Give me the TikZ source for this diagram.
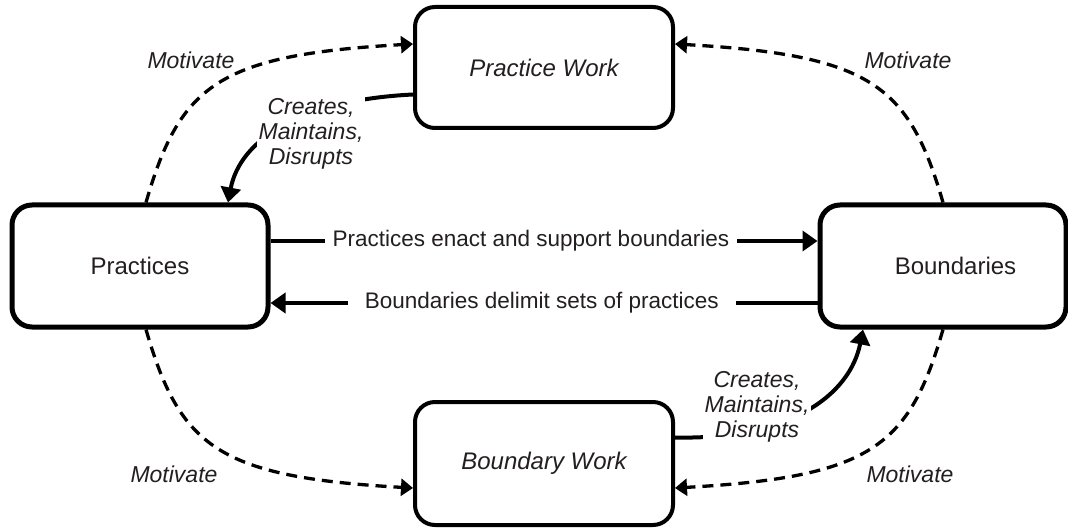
\documentclass[tikz,border=0pt]{standalone}
\usepackage{fontspec}
\setmainfont{Liberation Sans}
\usetikzlibrary{arrows.meta}
\definecolor{txt}{HTML}{231F20}
\begin{document}
\begin{tikzpicture}[x=1pt,y=-1pt,
  box/.style={draw=black, rounded corners=20pt, fill=white, text=txt, inner sep=0pt},
  bigbox/.style={box, line width=5pt, minimum width=256pt, minimum height=122pt, font=\fontsize{24}{28}\selectfont},
  workbox/.style={box, line width=4pt, minimum width=258pt, minimum height=121pt, font=\fontsize{24}{28}\selectfont\itshape},
  lbl/.style={text=txt, font=\fontsize{23}{25}\selectfont\itshape, align=center},
  flowlbl/.style={text=txt, font=\fontsize{22.5}{25}\selectfont, fill=white, inner ysep=2pt},
  flow/.style={line width=4pt, -{Triangle[length=15pt,width=20pt]}},
  motiv/.style={line width=3.3pt, dash pattern=on 11pt off 7pt, -{Triangle[length=12pt,width=17pt]}}
]
\useasboundingbox (0,0) rectangle (1068,529);

\node[bigbox] (P) at (140,266) {Practices};
\node[bigbox, minimum width=246pt] (B) at (943,266) {\hspace*{25pt}Boundaries};
\node[workbox] (PW) at (544,67.5) {Practice Work};
\node[workbox, minimum height=123pt] (BW) at (544,463.5) {Boundary Work};

% Motivate (dashed)
\draw[motiv] ([xshift=6pt]P.north) .. controls (180,85) and (218,55) .. ([yshift=23.5pt]PW.west);
\draw[motiv] (B.north) .. controls (909,85) and (871,55) .. ([yshift=23.5pt]PW.east);
\draw[motiv] ([xshift=6pt]P.south) .. controls (180,447) and (218,477) .. ([yshift=-24.5pt]BW.west);
\draw[motiv] (B.south) .. controls (909,447) and (871,477) .. ([yshift=-24.5pt]BW.east);

\node[lbl] (m1) at (191,60) {Motivate};
\node[lbl] (m2) at (908,60) {Motivate};
\node[lbl] (m3) at (174,474) {Motivate};
\node[lbl] (m4) at (910,474) {Motivate};

% Creates, Maintains, Disrupts
\draw[flow] ([yshift=-27pt]PW.west) .. controls (300,100) and (240,140) .. ([xshift=88pt]P.north);
\node[lbl, fill=white, inner sep=2pt] (c1) at (311,134) {Creates,\\Maintains,\\Disrupts};
\draw[flow] ([yshift=26pt]BW.east) .. controls (790,440) and (850,395) .. ([xshift=-80pt]B.south);
\node[lbl, fill=white, inner sep=2pt] (c2) at (757,407) {Creates,\\Maintains,\\Disrupts};

% Horizontal relations
\draw[flow] ([yshift=25pt]P.east) -- node[flowlbl, pos=0.476, inner xsep=8pt] (t1) {Practices enact and support boundaries} ([yshift=25pt]B.west);
\draw[flow] ([yshift=-37pt]B.west) -- node[flowlbl, pos=0.504, inner xsep=17pt] (t2) {Boundaries delimit sets of practices} ([yshift=-37pt]P.east);
\end{tikzpicture}
\end{document}
